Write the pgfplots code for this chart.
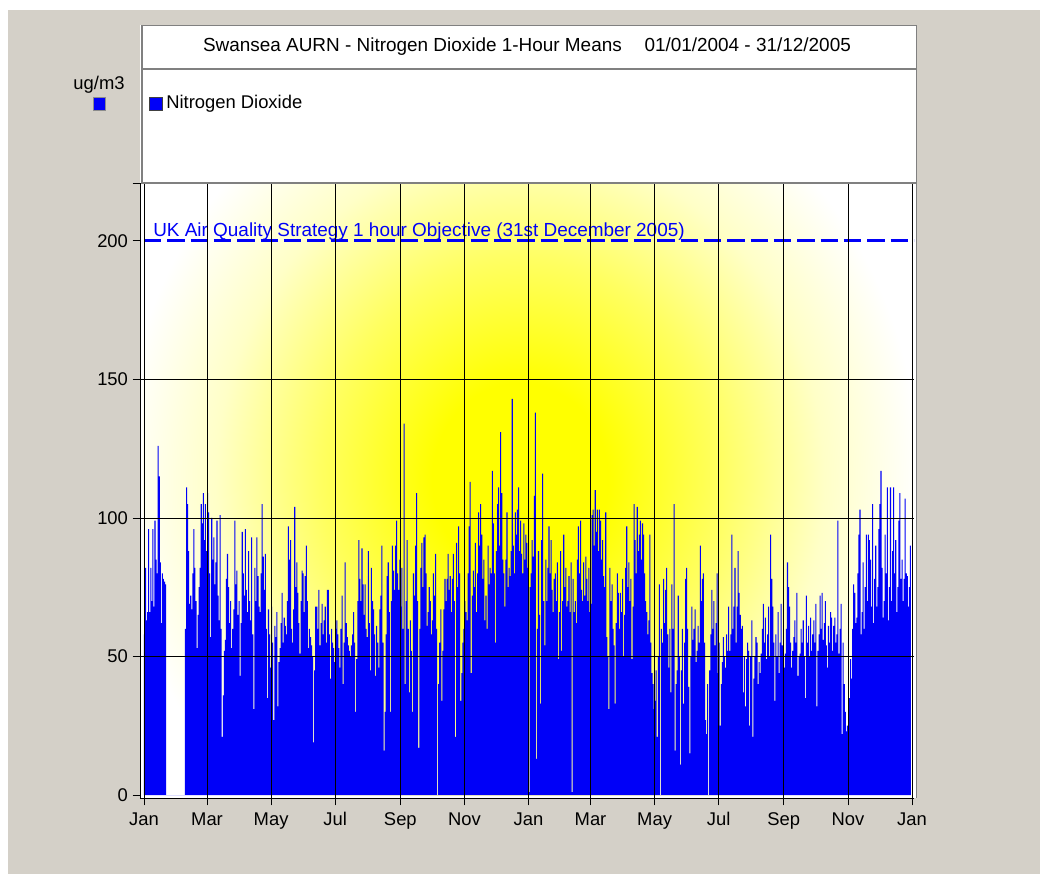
\documentclass[border=0pt]{standalone}
\usepackage{fontspec}
\setmainfont{Liberation Sans}
\usepackage{pgfplots}
\usepackage{pgfplotstable}
\pgfplotsset{compat=1.18}

\definecolor{wingray}{RGB}{212,208,200}
\definecolor{no2blue}{RGB}{0,0,248}
\definecolor{framegray}{RGB}{128,128,128}

% soft yellow glow behind the series (the path box spans radius 25bp)
\pgfdeclareradialshading{glow}{\pgfpoint{0bp}{0bp}}{%
  color(0bp)=(yellow); color(5.5bp)=(yellow); color(12.5bp)=(yellow!62!white);
  color(19bp)=(yellow!22!white); color(25bp)=(white); color(50bp)=(white)}

\newcommand{\lbl}{\fontsize{13.8}{16}\selectfont}
\newcommand{\ttl}{\fontsize{14.2}{16}\selectfont}

% daily peak of the 1-hour means, ug/m3, from 01/01/2004 (row 0) to 31/12/2005 (row 730)
\pgfplotstableread[row sep=\\]{
v\\
58\\ 82\\ 63\\ 66\\ 96\\ 66\\ 82\\ 70\\ 96\\ 68\\
99\\ 85\\ 80\\ 126\\ 115\\ 84\\ 62\\ 80\\ 78\\ 77\\
76\\ 0\\ 0\\ 0\\ 0\\ 0\\ 0\\ 0\\ 0\\ 0\\
0\\ 0\\ 0\\ 0\\ 0\\ 0\\ 0\\ 0\\ 0\\ 60\\
111\\ 105\\ 88\\ 69\\ 72\\ 67\\ 80\\ 96\\ 82\\ 70\\
53\\ 65\\ 75\\ 82\\ 105\\ 98\\ 109\\ 92\\ 105\\ 88\\
109\\ 102\\ 80\\ 57\\ 100\\ 85\\ 93\\ 76\\ 84\\ 99\\
72\\ 63\\ 101\\ 60\\ 21\\ 36\\ 52\\ 56\\ 78\\ 87\\
75\\ 62\\ 70\\ 53\\ 60\\ 67\\ 99\\ 76\\ 81\\ 65\\
70\\ 43\\ 62\\ 95\\ 80\\ 72\\ 96\\ 74\\ 66\\ 88\\
70\\ 63\\ 93\\ 58\\ 31\\ 82\\ 70\\ 93\\ 79\\ 68\\
66\\ 80\\ 105\\ 86\\ 74\\ 87\\ 60\\ 35\\ 67\\ 58\\
46\\ 68\\ 55\\ 27\\ 61\\ 57\\ 66\\ 32\\ 48\\ 53\\
62\\ 73\\ 55\\ 64\\ 61\\ 58\\ 70\\ 97\\ 85\\ 92\\
60\\ 55\\ 67\\ 104\\ 75\\ 84\\ 73\\ 62\\ 51\\ 70\\
81\\ 80\\ 66\\ 79\\ 90\\ 70\\ 53\\ 60\\ 57\\ 54\\
50\\ 19\\ 45\\ 68\\ 68\\ 60\\ 74\\ 54\\ 62\\ 69\\
58\\ 63\\ 68\\ 55\\ 74\\ 74\\ 58\\ 42\\ 60\\ 55\\
53\\ 48\\ 60\\ 63\\ 58\\ 53\\ 46\\ 60\\ 72\\ 40\\
55\\ 84\\ 62\\ 57\\ 54\\ 52\\ 50\\ 54\\ 58\\ 66\\
55\\ 30\\ 49\\ 70\\ 92\\ 78\\ 70\\ 89\\ 76\\ 65\\
76\\ 60\\ 57\\ 88\\ 62\\ 45\\ 82\\ 70\\ 67\\ 58\\
43\\ 61\\ 55\\ 46\\ 67\\ 72\\ 90\\ 55\\ 16\\ 30\\
58\\ 79\\ 84\\ 66\\ 30\\ 70\\ 90\\ 81\\ 74\\ 90\\
99\\ 80\\ 74\\ 85\\ 68\\ 82\\ 60\\ 134\\ 40\\ 70\\
92\\ 60\\ 37\\ 63\\ 52\\ 30\\ 80\\ 72\\ 90\\ 109\\
70\\ 17\\ 60\\ 82\\ 91\\ 75\\ 93\\ 94\\ 80\\ 61\\
66\\ 75\\ 70\\ 58\\ 63\\ 80\\ 72\\ 87\\ 60\\ 0\\
40\\ 55\\ 67\\ 34\\ 52\\ 67\\ 78\\ 70\\ 78\\ 87\\
74\\ 79\\ 66\\ 78\\ 87\\ 70\\ 21\\ 91\\ 75\\ 97\\
80\\ 34\\ 44\\ 55\\ 60\\ 70\\ 66\\ 63\\ 80\\ 97\\
113\\ 44\\ 72\\ 81\\ 75\\ 91\\ 66\\ 80\\ 102\\ 90\\
105\\ 94\\ 78\\ 85\\ 63\\ 72\\ 60\\ 90\\ 76\\ 82\\
80\\ 117\\ 98\\ 80\\ 55\\ 88\\ 105\\ 111\\ 90\\ 131\\
109\\ 85\\ 80\\ 68\\ 85\\ 102\\ 75\\ 82\\ 79\\ 88\\
143\\ 90\\ 80\\ 102\\ 94\\ 103\\ 111\\ 88\\ 99\\ 87\\
80\\ 98\\ 85\\ 94\\ 91\\ 82\\ 1\\ 75\\ 80\\ 92\\
86\\ 108\\ 138\\ 13\\ 60\\ 88\\ 65\\ 33\\ 92\\ 116\\
70\\ 54\\ 85\\ 70\\ 82\\ 97\\ 80\\ 92\\ 74\\ 66\\
78\\ 80\\ 70\\ 84\\ 49\\ 66\\ 88\\ 52\\ 70\\ 94\\
75\\ 82\\ 68\\ 70\\ 79\\ 66\\ 84\\ 1\\ 78\\ 66\\
70\\ 62\\ 85\\ 97\\ 80\\ 99\\ 74\\ 70\\ 84\\ 72\\
86\\ 78\\ 70\\ 82\\ 66\\ 69\\ 101\\ 103\\ 90\\ 110\\
95\\ 103\\ 88\\ 103\\ 99\\ 85\\ 92\\ 79\\ 75\\ 102\\
57\\ 50\\ 31\\ 82\\ 70\\ 76\\ 60\\ 54\\ 33\\ 62\\
80\\ 73\\ 60\\ 73\\ 66\\ 78\\ 50\\ 65\\ 82\\ 97\\
75\\ 84\\ 70\\ 78\\ 49\\ 68\\ 105\\ 92\\ 80\\ 104\\
88\\ 94\\ 99\\ 85\\ 98\\ 94\\ 80\\ 70\\ 66\\ 58\\
63\\ 94\\ 55\\ 44\\ 40\\ 31\\ 34\\ 45\\ 21\\ 50\\
76\\ 0\\ 60\\ 55\\ 78\\ 62\\ 74\\ 82\\ 58\\ 46\\
60\\ 37\\ 76\\ 60\\ 105\\ 16\\ 40\\ 45\\ 72\\ 50\\
11\\ 45\\ 60\\ 33\\ 55\\ 78\\ 82\\ 60\\ 39\\ 15\\
50\\ 68\\ 56\\ 60\\ 67\\ 48\\ 52\\ 61\\ 55\\ 90\\
70\\ 78\\ 80\\ 55\\ 27\\ 22\\ 40\\ 0\\ 45\\ 58\\
74\\ 60\\ 70\\ 54\\ 62\\ 80\\ 44\\ 55\\ 25\\ 40\\
48\\ 57\\ 50\\ 46\\ 58\\ 52\\ 68\\ 52\\ 58\\ 94\\
60\\ 68\\ 82\\ 55\\ 68\\ 88\\ 73\\ 65\\ 60\\ 61\\
37\\ 50\\ 32\\ 49\\ 55\\ 52\\ 25\\ 50\\ 63\\ 21\\
42\\ 50\\ 57\\ 55\\ 40\\ 48\\ 44\\ 51\\ 60\\ 69\\
55\\ 64\\ 49\\ 58\\ 68\\ 50\\ 94\\ 78\\ 68\\ 55\\
34\\ 58\\ 50\\ 66\\ 44\\ 55\\ 69\\ 54\\ 50\\ 46\\
51\\ 60\\ 84\\ 75\\ 68\\ 55\\ 46\\ 52\\ 57\\ 63\\
55\\ 73\\ 43\\ 50\\ 51\\ 60\\ 55\\ 63\\ 50\\ 35\\
72\\ 55\\ 61\\ 50\\ 64\\ 52\\ 58\\ 63\\ 55\\ 69\\
32\\ 52\\ 58\\ 72\\ 60\\ 73\\ 56\\ 62\\ 70\\ 54\\
46\\ 61\\ 55\\ 66\\ 64\\ 52\\ 61\\ 64\\ 55\\ 58\\
99\\ 51\\ 60\\ 69\\ 22\\ 55\\ 40\\ 30\\ 23\\ 25\\
23\\ 35\\ 49\\ 42\\ 60\\ 76\\ 73\\ 62\\ 64\\ 80\\
94\\ 103\\ 58\\ 66\\ 84\\ 60\\ 75\\ 94\\ 70\\ 94\\
92\\ 85\\ 68\\ 105\\ 62\\ 78\\ 90\\ 68\\ 75\\ 96\\
105\\ 117\\ 82\\ 64\\ 70\\ 94\\ 80\\ 111\\ 63\\ 75\\
111\\ 70\\ 88\\ 111\\ 80\\ 92\\ 66\\ 75\\ 99\\ 109\\
78\\ 85\\ 70\\ 78\\ 107\\ 80\\ 79\\ 68\\ 75\\ 90\\
76\\
}\nodata

\begin{document}
\begin{tikzpicture}
% page, window background and white chart panel (pixel-style coordinates, y down)
\begin{scope}[x=0.75pt, y=-0.75pt, shift={(0pt,655.5pt)}]
  \fill[white] (0,0) rectangle (1040,874);
  \fill[wingray] (8,10) rectangle (1040,874);
  \fill[white] (140,25) rectangle (917,798);
\end{scope}

\begin{axis}[
  at={(105pt,57pt)}, anchor=south west,
  scale only axis, width=580.5pt, height=461.25pt,
  xmin=-3.8, xmax=732.9, ymin=-1.08, ymax=220.9,
  axis x line*=bottom, axis y line*=left,
  axis line style={black, line width=0.7pt},
  axis on top,
  xtick={0,60,121,182,244,305,366,425,486,547,609,670,731},
  xticklabels={Jan,Mar,May,Jul,Sep,Nov,Jan,Mar,May,Jul,Sep,Nov,Jan},
  ytick={50,100,150}, yticklabels={50,100,150},
  extra y ticks={0,200,220.9}, extra y tick labels={0,200,{}},
  extra y tick style={grid=none},
  tick align=outside, major tick length=5.5pt,
  tick style={black, line width=0.6pt},
  grid=major, grid style={black, line width=0.6pt},
  ticklabel style={font=\lbl},
  xticklabel style={text height=10pt, text depth=2pt, yshift=-1.5pt},
]
  \begin{scope}
    \clip (axis cs:-1,0) rectangle (axis cs:732.9,220.9);
    \shade[shading=glow] (axis cs:-22.8,-45) rectangle (axis cs:738.6,272.5);
  \end{scope}

  \addplot[const plot, draw=none, fill=no2blue]
    table[x expr=\coordindex, y=v] {\nodata} \closedcycle;

  \addplot[no2blue, line width=2.3pt, dash pattern=on 13pt off 4.5pt]
    coordinates {(0,200) (732.9,200)};
  \node[anchor=base west, text=no2blue, inner sep=0pt, font=\ttl]
    at (axis cs:8.6,200) [yshift=3.5pt]
    {UK Air Quality Strategy 1 hour Objective (31st December 2005)};
\end{axis}

% title box, legend box and panel frame
\begin{scope}[x=0.75pt, y=-0.75pt, shift={(0pt,655.5pt)}]
  \draw[framegray, line width=0.9pt] (142,25.5) rectangle (916.5,69);
  \draw[framegray, line width=0.9pt] (142,69) rectangle (916.5,183);
  \draw[framegray, line width=0.9pt] (916.5,183) -- (916.5,798);
  \node[font=\ttl] at (527,47)
    {Swansea AURN - Nitrogen Dioxide 1-Hour Means\hspace{1.2em}01/01/2004 - 31/12/2005};
  \fill[no2blue, draw=black!75, line width=0.5pt] (149,97) rectangle (162,110);
  \node[font=\lbl, anchor=west, inner sep=0pt] at (166,104) {Nitrogen Dioxide};
  \fill[no2blue, draw=black!45, line width=0.5pt] (93,97) rectangle (105,110);
  \node[font=\lbl] at (99,85) {ug/m3};
\end{scope}
\end{tikzpicture}
\end{document}
